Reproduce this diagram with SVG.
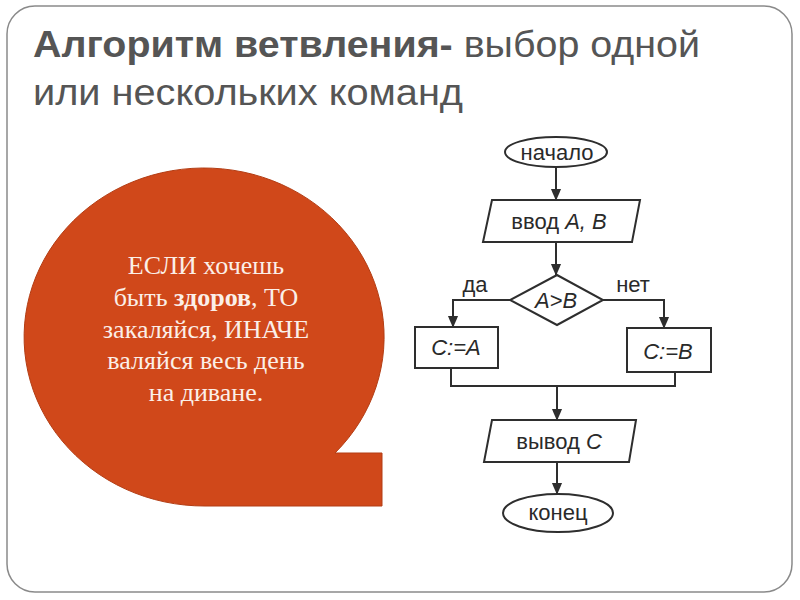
<svg xmlns="http://www.w3.org/2000/svg" width="800" height="600" viewBox="0 0 800 600">
<defs>
<style>
.title{font-family:"Liberation Sans",Arial,sans-serif;font-size:37px;fill:#555555}
.bubble{font-family:"Liberation Serif","Times New Roman",serif;font-size:26px;fill:#FBEFE8;text-anchor:middle}
.fc{fill:#ffffff;stroke:#2e2e2e;stroke-width:2}
.ft{font-family:"Liberation Sans",Arial,sans-serif;font-size:22px;fill:#2a2a2a;text-anchor:middle}
.it{font-style:italic}
.con{fill:none;stroke:#2e2e2e;stroke-width:2}
</style>
<marker id="ah" markerUnits="userSpaceOnUse" markerWidth="12" markerHeight="14" refX="13" refY="6" orient="auto" viewBox="0 0 14 12">
<path d="M0,0 L14,6 L0,12 Z" fill="#2e2e2e"/>
</marker>
</defs>
<rect x="0" y="0" width="800" height="600" fill="#ffffff"/>
<rect x="7" y="6" width="785" height="586" rx="28" ry="28" fill="#ffffff" stroke="#8a8a8a" stroke-width="1.5"/>

<g id="title">
<text class="title" x="33" y="57" textLength="667" lengthAdjust="spacingAndGlyphs"><tspan font-weight="bold">Алгоритм ветвления-</tspan> выбор одной</text>
<text class="title" x="33" y="105" textLength="430" lengthAdjust="spacingAndGlyphs">или нескольких команд</text>
</g>

<g id="bubble">
<path d="M205 506 A180 169 0 1 1 335 453 L382 453 L382 506 Z" fill="#D0481A" stroke="#B33D14" stroke-width="1"/>
<text class="bubble" x="206" y="274">ЕСЛИ хочешь</text>
<text class="bubble" x="206" y="306">быть <tspan font-weight="bold">здоров</tspan>, ТО</text>
<text class="bubble" x="206" y="338">закаляйся, ИНАЧЕ</text>
<text class="bubble" x="206" y="369">валяйся весь день</text>
<text class="bubble" x="206" y="401">на диване.</text>
</g>

<g id="connectors">
<line class="con" x1="556" y1="167" x2="556" y2="200" marker-end="url(#ah)"/>
<line class="con" x1="556" y1="242" x2="556" y2="275" marker-end="url(#ah)"/>
<polyline class="con" points="510,300 453,300 453,327" marker-end="url(#ah)"/>
<polyline class="con" points="603,300 664,300 664,328" marker-end="url(#ah)"/>
<polyline class="con" points="451,368 451,386 675,386 675,372"/>
<line class="con" x1="557" y1="386" x2="557" y2="420" marker-end="url(#ah)"/>
<line class="con" x1="557" y1="462" x2="557" y2="494" marker-end="url(#ah)"/>
<text class="ft" x="475" y="292">да</text>
<text class="ft" x="633" y="292">нет</text>
</g>

<g id="start">
<ellipse class="fc" cx="556" cy="152" rx="51" ry="15"/>
<text class="ft" x="557" y="160">начало</text>
</g>
<g id="input">
<polygon class="fc" points="492,200 640,200 632,242 483,242"/>
<text class="ft" x="559" y="229">ввод <tspan class="it">A, B</tspan></text>
</g>
<g id="decision">
<polygon class="fc" points="557,275 603,300 557,325 510,300"/>
<text class="ft it" x="556" y="308">A&gt;B</text>
</g>
<g id="assignA">
<rect class="fc" x="415" y="327" width="83" height="41"/>
<text class="ft it" x="456" y="355">C:=A</text>
</g>
<g id="assignB">
<rect class="fc" x="627" y="328" width="84" height="44"/>
<text class="ft it" x="668" y="359">C:=B</text>
</g>
<g id="output">
<polygon class="fc" points="492,420 636,420 629,462 484,462"/>
<text class="ft" x="559" y="449">вывод <tspan class="it">C</tspan></text>
</g>
<g id="end">
<ellipse class="fc" cx="558" cy="513" rx="55" ry="19"/>
<text class="ft" x="558" y="520">конец</text>
</g>
</svg>
